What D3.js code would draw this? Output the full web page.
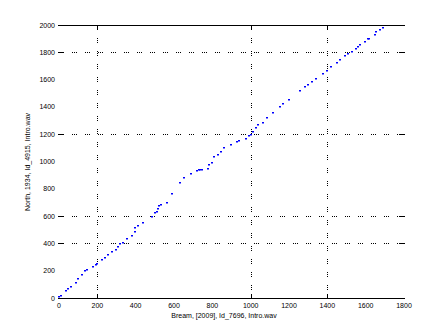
<!DOCTYPE html>
<html><head><meta charset="utf-8">
<script src="https://cdn.jsdelivr.net/npm/d3@7"></script>
<style>body{margin:0;background:#fff}svg{display:block}text{font-family:"Liberation Sans",Arial,sans-serif;font-size:7px;fill:#000}</style>
</head><body><svg id="c" width="447" height="335"></svg>
<script>
const xTicks = [0,200,400,600,800,1000,1200,1400,1600,1800];
const yTicks = [0,200,400,600,800,1000,1200,1400,1600,1800,2000];
const xGrid = [200,1000,1400];
const yGrid = [400,600,1200,1800];
const xLabel = "Bream, [2009], Id_7696, Intro.wav";
const yLabel = "North, 1934, Id_4915, Intro.wav";
const xVals = [0,9,37,49,61,89,101,118,136,148,176,191,200,222,240,257,278,296,310,318,336,356,379,396,396,410,440,483,501,510,518,521,532,562,591,631,654,687,718,729,737,744,779,784,798,810,828,844,861,896,927,941,976,991,1002,1014,1028,1040,1063,1087,1115,1153,1167,1202,1257,1283,1300,1321,1339,1376,1396,1419,1449,1466,1492,1506,1530,1549,1562,1570,1596,1612,1618,1647,1652,1675,1692];
const yVals = [10,17,51,68,83,112,141,171,200,205,225,242,247,278,295,317,337,352,376,393,400,434,454,481,515,527,547,596,620,628,652,676,681,698,760,845,877,905,927,937,937,937,944,971,987,1031,1050,1067,1096,1121,1143,1150,1163,1189,1194,1214,1243,1265,1280,1316,1358,1402,1419,1451,1516,1543,1560,1585,1604,1641,1665,1692,1719,1744,1773,1785,1804,1822,1841,1853,1877,1894,1894,1926,1946,1963,1978];

const svg = d3.select("#c");
const L=59,R=404,T=25,B=298;
const x = d3.scaleLinear().domain([0,1800]).range([L,R]);
const y = d3.scaleLinear().domain([0,2000]).range([B,T]);

const dash = "1,1,1,1,1,8";
svg.selectAll(".vg").data(xGrid).enter().append("line")
  .attr("x1",d=>Math.round(x(d))+0.5).attr("x2",d=>Math.round(x(d))+0.5)
  .attr("y1",T).attr("y2",B).attr("stroke","#000").attr("stroke-dasharray",dash).attr("stroke-width",1);
svg.selectAll(".hg").data(yGrid).enter().append("line")
  .attr("y1",d=>Math.round(y(d))+0.5).attr("y2",d=>Math.round(y(d))+0.5)
  .attr("x1",L).attr("x2",R).attr("stroke","#000").attr("stroke-dasharray",dash).attr("stroke-width",1);

// axis lines top and bottom
[T,B].forEach(v=>svg.append("line").attr("x1",L-1).attr("x2",R+1).attr("y1",v+0.5).attr("y2",v+0.5).attr("stroke","#000"));

// ticks
xGrid.forEach(d=>{
  const px=Math.round(x(d))+0.5;
  svg.append("line").attr("x1",px).attr("x2",px).attr("y1",B).attr("y2",B-4).attr("stroke","#000");
  svg.append("line").attr("x1",px).attr("x2",px).attr("y1",T).attr("y2",T+4).attr("stroke","#000");
});
yGrid.forEach(d=>{
  const py=Math.round(y(d))+0.5;
  svg.append("line").attr("x1",L-1).attr("x2",L+4).attr("y1",py).attr("y2",py).attr("stroke","#000");
  svg.append("line").attr("x1",R+1).attr("x2",R-4).attr("y1",py).attr("y2",py).attr("stroke","#000");
});

// tick labels
svg.selectAll(".xl").data(xTicks).enter().append("text")
  .attr("x",d=>x(d)).attr("y",308).attr("text-anchor","middle").text(d=>d);
svg.selectAll(".yl").data(yTicks).enter().append("text")
  .attr("x",55).attr("y",d=>y(d)+2.5).attr("text-anchor","end").text(d=>d);

svg.append("text").attr("x",224).attr("y",318).attr("text-anchor","middle").text(xLabel);
svg.append("text").attr("transform","translate(30,162) rotate(-90)").attr("text-anchor","middle").text(yLabel);

// points
svg.selectAll(".p").data(xVals.map((v,i)=>[v,yVals[i]])).enter().append("rect")
  .attr("x",d=>Math.round(x(d[0]))-1).attr("y",d=>Math.round(y(d[1]))-1)
  .attr("width",2).attr("height",1.5).attr("fill","#0000ff");
</script></body></html>
